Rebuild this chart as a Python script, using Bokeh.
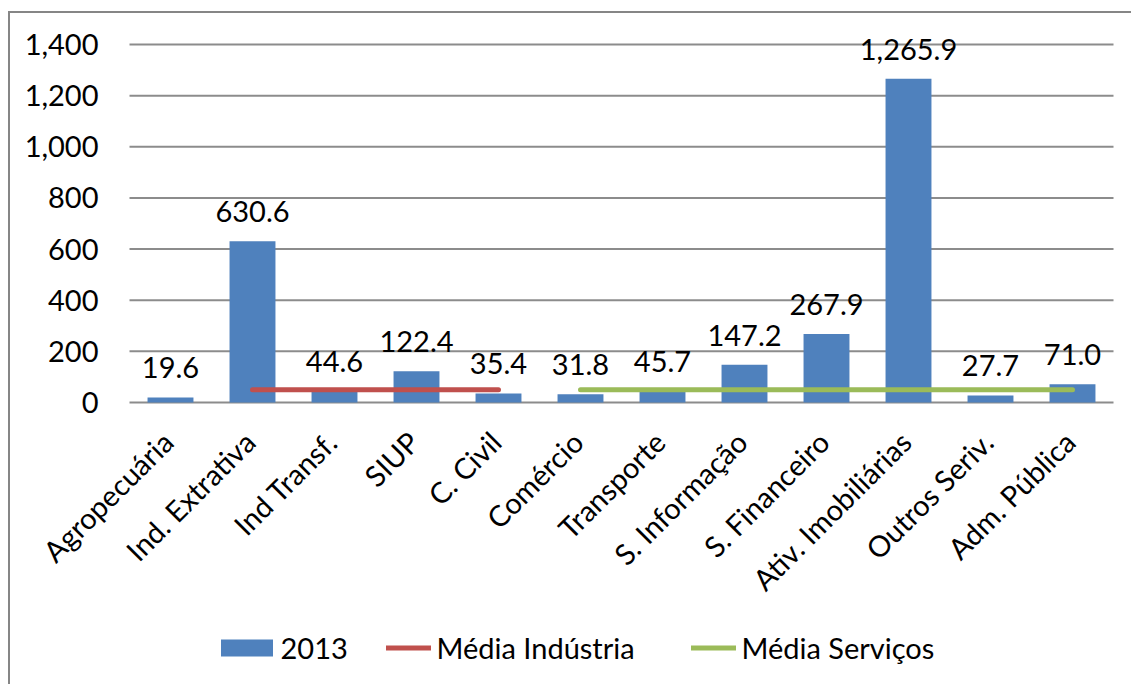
import math
from bokeh.plotting import figure
from bokeh.core.properties import value
from bokeh.models import ColumnDataSource, Range1d, LabelSet, Legend, LegendItem
from bokeh.embed import file_html
from bokeh.resources import INLINE

categories = ["Agropecuária", "Ind. Extrativa", "Ind Transf.", "SIUP", "C. Civil", "Comércio",
              "Transporte", "S. Informação", "S. Financeiro", "Ativ. Imobiliárias",
              "Outros Seriv.", "Adm. Pública"]
values_2013 = [19.6, 630.6, 44.6, 122.4, 35.4, 31.8, 45.7, 147.2, 267.9, 1265.9, 27.7, 71.0]
labels_2013 = ["19.6", "630.6", "44.6", "122.4", "35.4", "31.8", "45.7", "147.2", "267.9",
               "1,265.9", "27.7", "71.0"]
y_ticks = [0, 200, 400, 600, 800, 1000, 1200, 1400]
y_tick_labels = ["0", "200", "400", "600", "800", "1,000", "1,200", "1,400"]

industria_cats = ["Ind. Extrativa", "Ind Transf.", "SIUP", "C. Civil"]
industria_avg = [50, 50, 50, 50]
servicos_cats = ["Comércio", "Transporte", "S. Informação", "S. Financeiro",
                 "Ativ. Imobiliárias", "Outros Seriv.", "Adm. Pública"]
servicos_avg = [50, 50, 50, 50, 50, 50, 50]

FONT = "Lato"
FS = "29px"
BLUE = "#4F81BD"
RED = "#C0504D"
GREEN = "#9BBB59"
GRID = "#8C8C8C"

def pos(c):
    return categories.index(c) + 0.5

n = len(categories)
src = ColumnDataSource(dict(x=[pos(c) for c in categories], val=values_2013, lab=labels_2013,
                            zero=[0] * n, cat=categories))
tick_src = ColumnDataSource(dict(y=y_ticks, lab=y_tick_labels, x0=[0] * len(y_ticks),
                                 x1=[n] * len(y_ticks)))

# page geometry (element offset by margins; border drawn via CSS on top/left)
OFF_X, OFF_Y = 10, 13
PLOT_L, PLOT_R = 129, 1113                       # page x of the category band
GRID_TOP, ZERO_Y, FRAME_BOTTOM = 44, 402, 680    # page y of 1400 line, 0 line, frame bottom
HEAD = 22                                        # room above the 1400 line for data labels
W, H = 1131 - OFF_X, 684 - OFF_Y
pxc = (PLOT_R - PLOT_L) / n
x_start = -(PLOT_L - OFF_X) / pxc
x_end = n + (1131 - PLOT_R) / pxc
y_top = max(y_ticks)
pxu = (ZERO_Y - GRID_TOP) / y_top
y_end = y_top + HEAD / pxu
y_start = -(FRAME_BOTTOM - ZERO_Y) / pxu
frame_top = GRID_TOP - HEAD

p = figure(width=W, height=H, output_backend="svg", toolbar_location=None,
           x_range=Range1d(x_start, x_end), y_range=Range1d(y_start, y_end),
           x_axis_location=None, y_axis_location=None,
           min_border_left=0, min_border_right=0,
           min_border_top=frame_top - OFF_Y, min_border_bottom=H - (FRAME_BOTTOM - OFF_Y),
           styles={"margin-left": "8px", "margin-top": "11px",
                   "border-left": "2px solid #868686", "border-top": "2px solid #868686"})
p.frame_width = W
p.frame_height = FRAME_BOTTOM - frame_top
p.outline_line_color = None
p.grid.visible = False

# horizontal gridlines at the value ticks
p.segment(x0="x0", x1="x1", y0="y", y1="y", source=tick_src, line_color=GRID, line_width=2)

bars = p.vbar(x="x", top="val", width=0.56, source=src, fill_color=BLUE, line_color=None)
r_ind = p.line(x=[pos(c) for c in industria_cats], y=industria_avg, line_color=RED,
               line_width=5, line_cap="round")
r_ser = p.line(x=[pos(c) for c in servicos_cats], y=servicos_avg, line_color=GREEN,
               line_width=5, line_cap="round")

# value tick labels
p.add_layout(LabelSet(x="x0", y="y", text="lab", source=tick_src, text_align="right",
                      text_baseline="middle", x_offset=-31, text_font=value(FONT),
                      text_font_size=FS, text_color="black"))

# data labels
p.add_layout(LabelSet(x="x", y="val", text="lab", source=src, text_align="center",
                      text_baseline="alphabetic", y_offset=19, text_font=value(FONT),
                      text_font_size=FS, text_color="black"))

# category labels, rotated 45 degrees below the zero line
p.add_layout(LabelSet(x="x", y="zero", text="cat", source=src, text_align="right",
                      text_baseline="middle", angle=math.pi / 4, x_offset=-3, y_offset=-34,
                      text_font=value(FONT), text_font_size=FS, text_color="black"))

frame_left = OFF_X
LEG_Y = 15

def add_legend(item, glyph_left, gw, gh, standoff):
    lg = Legend(items=[item], location=(glyph_left - frame_left, LEG_Y),
                orientation="horizontal", glyph_width=gw, glyph_height=gh,
                label_standoff=standoff, spacing=0,
                label_text_font=FONT, label_text_font_size=FS, label_text_color="black",
                border_line_color=None, background_fill_alpha=0, padding=0, margin=0)
    p.add_layout(lg, "center")

add_legend(LegendItem(label="2013", renderers=[bars]), 213.5, 65, 21, 2)
add_legend(LegendItem(label="Média Indústria", renderers=[r_ind]), 385.5, 45, 21, 6)
add_legend(LegendItem(label="Média Serviços", renderers=[r_ser]), 690.5, 45, 21, 6)

open("out.html", "w").write(file_html(p, INLINE))
